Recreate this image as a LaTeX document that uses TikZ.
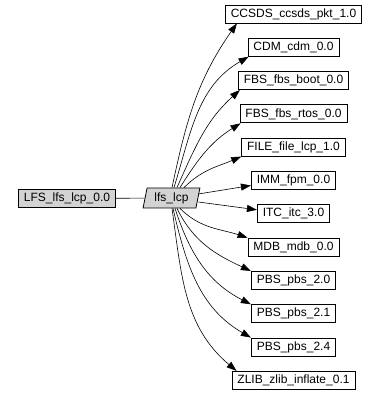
\documentclass[tikz,border=0pt]{standalone}
\usepackage{fontspec}
\setmainfont{Liberation Sans}
\definecolor{nodegray}{RGB}{211,211,211}
\usetikzlibrary{positioning, arrows.meta, shapes.geometric}

\begin{document}
\begin{tikzpicture}[
  x=1pt, y=1pt,
  pkg/.style={draw, line width=0.8pt, fill=white, minimum height=18pt,
    inner xsep=5.5pt, inner ysep=0pt, font=\fontsize{12}{14}\selectfont},
  comp/.style={draw, line width=0.8pt, fill=nodegray, trapezium,
    trapezium left angle=76, trapezium right angle=104,
    trapezium stretches=true, minimum width=57pt, minimum height=20pt,
    inner sep=0pt, font=\fontsize{12}{14}\selectfont},
  dep/.style={-{Triangle[length=10pt, width=7pt]}, line width=0.6pt},
]
\useasboundingbox (0,0) rectangle (377,397);

% Left side
\node[pkg, fill=nodegray] (lfs) at (67,198.5) {LFS\_lfs\_lcp\_0.0};
\node[comp] (lcp) at (171.5,199) {lfs\_lcp};

% Packages
\node[pkg] (ccsds) at (293.5,383)   {CCSDS\_ccsds\_pkt\_1.0};
\node[pkg] (cdm)   at (293.5,349.7) {CDM\_cdm\_0.0};
\node[pkg] (boot)  at (293.5,316.4) {FBS\_fbs\_boot\_0.0};
\node[pkg] (rtos)  at (293.5,283.1) {FBS\_fbs\_rtos\_0.0};
\node[pkg] (file)  at (293.5,249.8) {FILE\_file\_lcp\_1.0};
\node[pkg] (imm)   at (293.5,216.5) {IMM\_fpm\_0.0};
\node[pkg] (itc)   at (293.5,183.2) {ITC\_itc\_3.0};
\node[pkg] (mdb)   at (293.5,149.9) {MDB\_mdb\_0.0};
\node[pkg] (pbsa)  at (293.5,116.6) {PBS\_pbs\_2.0};
\node[pkg] (pbsb)  at (293.5,83.3)  {PBS\_pbs\_2.1};
\node[pkg] (pbsc)  at (293.5,50)    {PBS\_pbs\_2.4};
\node[pkg] (zlib)  at (293.5,16.7)  {ZLIB\_zlib\_inflate\_0.1};

% Edges
\draw[line width=0.6pt] (lfs) -- (lcp);
\draw[dep] ([xshift=0.5pt]lcp.north) to[out=78, in=235] ([xshift=12pt]ccsds.south west);
\draw[dep] ([xshift=2.5pt]lcp.north) to[out=73, in=210] ([xshift=1pt]cdm.south west);
\draw[dep] ([xshift=5.5pt]lcp.north) to[out=66, in=222] ([xshift=2pt]boot.south west);
\draw[dep] ([xshift=8.5pt]lcp.north) to[out=58, in=212] ([xshift=1pt]rtos.south west);
\draw[dep] ([xshift=12.5pt]lcp.north) to[out=45, in=203] (file.south west);
\draw[dep] ([yshift=4pt]lcp.east) -- ([yshift=-5pt]imm.west);
\draw[dep] ([yshift=-4pt]lcp.east) -- ([yshift=4pt]itc.west);
\draw[dep] ([xshift=8.5pt]lcp.south) to[out=-45, in=162] (mdb.north west);
\draw[dep] ([xshift=5.5pt]lcp.south) to[out=-64, in=155] (pbsa.north west);
\draw[dep] ([xshift=3.5pt]lcp.south) to[out=-72, in=153] (pbsb.north west);
\draw[dep] ([xshift=1.5pt]lcp.south) to[out=-77, in=150] (pbsc.north west);
\draw[dep] ([xshift=0.5pt]lcp.south) to[out=-82, in=140] ([xshift=5pt]zlib.north west);
\end{tikzpicture}
\end{document}
